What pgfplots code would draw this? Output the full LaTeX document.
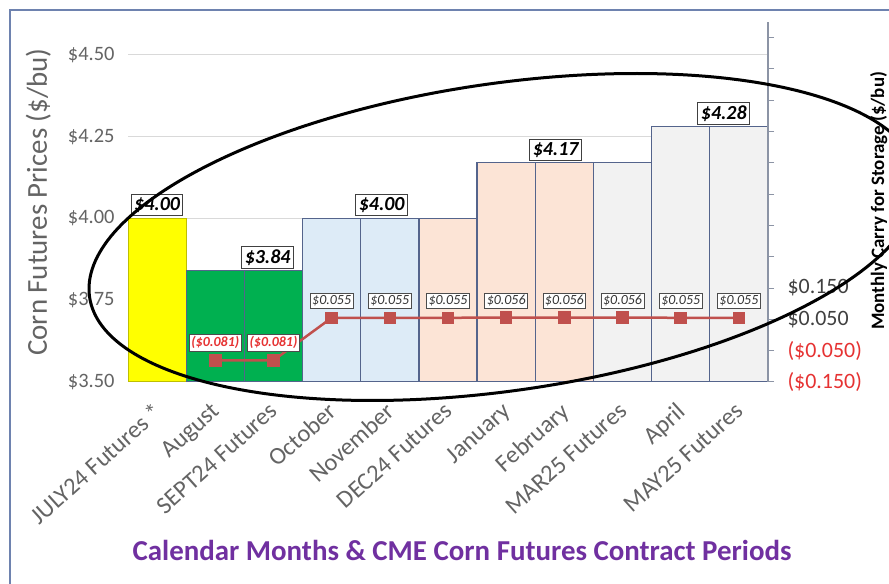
\documentclass[border=0pt]{standalone}
\usepackage{pgfplots}
\pgfplotsset{compat=1.18}
\usepackage{fontspec}
\setmainfont{Carlito}
\definecolor{barY}{RGB}{255,255,0}
\definecolor{barG}{RGB}{0,176,80}
\definecolor{barB}{RGB}{221,235,247}
\definecolor{barP}{RGB}{252,228,214}
\definecolor{barW}{RGB}{242,242,242}
\definecolor{edge}{RGB}{84,100,140}
\definecolor{carry}{RGB}{192,80,77}
\definecolor{negred}{RGB}{230,50,50}
\definecolor{ticktxt}{RGB}{100,100,100}
\definecolor{purp}{RGB}{112,48,160}
\definecolor{framec}{RGB}{110,130,175}
\definecolor{axisgray}{RGB}{140,148,165}
\begin{document}
\begin{tikzpicture}
\useasboundingbox (0,0) rectangle (889bp,584bp);
\clip (0,0) rectangle (889bp,584bp);
\fill[white] (0,0) rectangle (889bp,584bp);
\draw[framec, line width=2bp] (10bp,-20bp) -- (10bp,574bp) -- (920bp,574bp);
\begin{axis}[
  scale only axis, width=640bp, height=360bp,
  at={(128bp,202bp)}, anchor=south west,
  xmin=-0.5, xmax=10.5, ymin=3.5, ymax=4.6,
  axis x line*=bottom, axis y line*=left,
  x axis line style={draw=black!18, line width=1bp, -},
  y axis line style={draw=none, -},
  xtick={0,...,10},
  xticklabels={JULY24 Futures *, August, SEPT24 Futures, October, November, DEC24 Futures, January, February, MAR25 Futures, April, MAY25 Futures},
  xticklabel style={xshift=-5bp, yshift=-19bp, rotate=42, anchor=north east, font=\fontsize{24.5}{24.5}\selectfont, text=ticktxt, inner sep=0pt},
  ytick={3.5,3.75,4,4.25,4.5},
  yticklabels={\$3.50,\$3.75,\$4.00,\$4.25,\$4.50},
  yticklabel style={font=\fontsize{20.5}{20.5}\selectfont, text=ticktxt, xshift=-10bp},
  major tick length=0pt,
  ymajorgrids, grid style={draw=black!15, line width=1bp},
  ylabel={Corn Futures Prices (\$/bu)},
  ylabel style={at={(axis description cs:-0.14,0.5)}, anchor=center, font=\fontsize{29}{29}\selectfont, text=ticktxt},
  xlabel={Calendar Months \& CME Corn Futures Contract Periods},
  xlabel style={at={(axis description cs:0.522,-0.469)}, anchor=center, font=\fontsize{29}{29}\selectfont\bfseries, text=purp},
]
\addplot[ybar, bar width=58.18bp, bar shift=0pt, fill=barY, draw=barY!75!black, line width=1bp] coordinates {(0,4.00)};
\addplot[ybar, bar width=58.18bp, bar shift=0pt, fill=barG, draw=edge, line width=1.2bp] coordinates {(1,3.84) (2,3.84)};
\addplot[ybar, bar width=58.18bp, bar shift=0pt, fill=barB, draw=edge, line width=1.2bp] coordinates {(3,4.00) (4,4.00)};
\addplot[ybar, bar width=58.18bp, bar shift=0pt, fill=barP, draw=edge, line width=1.2bp] coordinates {(5,4.00) (6,4.17) (7,4.17)};
\addplot[ybar, bar width=58.18bp, bar shift=0pt, fill=barW, draw=edge, line width=1.2bp] coordinates {(8,4.17) (9,4.28) (10,4.28)};
\addplot[draw=none, mark=none, nodes near coords, point meta=explicit symbolic,
  nodes near coords style={draw=black!75, fill=white, text=black, line width=1bp, inner sep=3bp,
    font=\fontsize{20}{20}\selectfont\bfseries\itshape, anchor=south, yshift=2bp}]
  coordinates {(0,4.00)[\$4.00] (1.9,3.84)[\$3.84] (3.86,4.00)[\$4.00] (6.85,4.17)[\$4.17] (9.74,4.28)[\$4.28]};
\end{axis}
\begin{axis}[
  scale only axis, width=640bp, height=360bp,
  at={(128bp,202bp)}, anchor=south west,
  xmin=-0.5, xmax=10.5, ymin=-0.15, ymax=1.0,
  axis x line=none, axis y line*=right,
  y axis line style={draw=axisgray, line width=1.2bp, -},
  ytick={-0.15,-0.05,0.05,0.15,0.25,0.35,0.45,0.55,0.65,0.75,0.85,0.95},
  yticklabels={\textcolor{negred}{(\$0.150)}, \textcolor{negred}{(\$0.050)}, \$0.050, \$0.150, {},{},{},{},{},{},{},{}},
  yticklabel style={font=\fontsize{22}{22}\selectfont, text=black!75, xshift=10bp},
  tick align=outside, major tick length=6bp, ytick style={draw=axisgray, line width=1bp},
  ylabel={Monthly Carry for Storage (\$/bu)},
  ylabel style={at={(axis description cs:1.173,0.503)}, anchor=center, font=\fontsize{19}{19}\selectfont\bfseries, text=black},
]
\addplot[carry, line width=2.5bp, mark=square*, mark size=5bp, mark options={fill=carry, draw=carry},
  nodes near coords, point meta=explicit symbolic,
  nodes near coords style={draw=black!70, fill=white, text=black!80, line width=0.8bp, inner sep=2bp,
    font=\fontsize{14}{14}\selectfont\itshape, anchor=south, yshift=9bp}]
coordinates {
(1,-0.081)[\textcolor{negred}{\bfseries(\$0.081)}]
(2,-0.081)[\textcolor{negred}{\bfseries(\$0.081)}]
(3,0.055)[\$0.055]
(4,0.055)[\$0.055]
(5,0.055)[\$0.055]
(6,0.056)[\$0.056]
(7,0.056)[\$0.056]
(8,0.056)[\$0.056]
(9,0.055)[\$0.055]
(10,0.055)[\$0.055]
};
\end{axis}
\draw[black, line width=3bp, cm={1,0.125,0,1,(504bp,347bp)}] (0,0) ellipse [x radius=415bp, y radius=155bp];
\end{tikzpicture}
\end{document}
